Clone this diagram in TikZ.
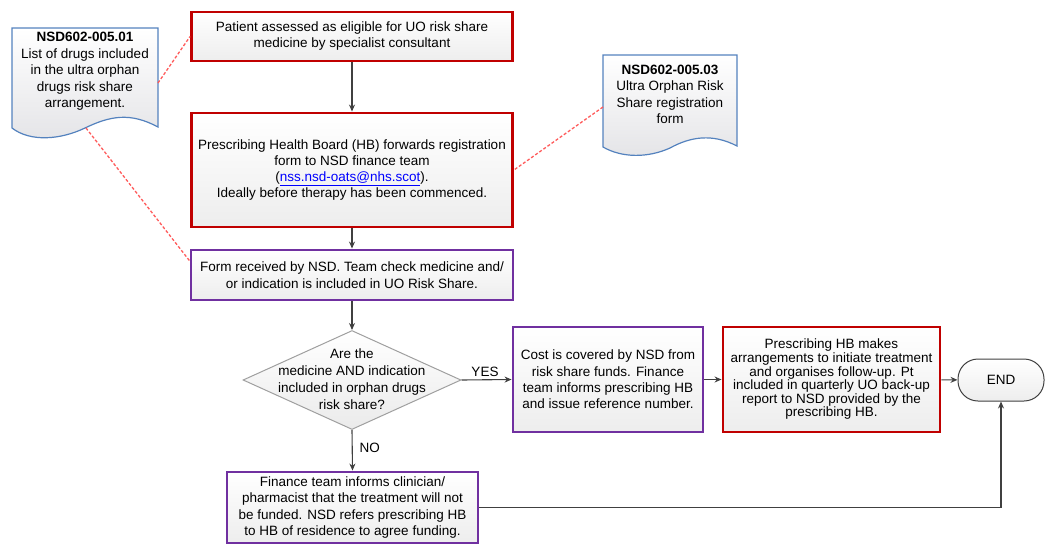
\documentclass[tikz,border=0pt]{standalone}
\usepackage{fontspec}
\setmainfont{Liberation Sans}
\usetikzlibrary{shapes.geometric,arrows.meta}

\definecolor{boxred}{RGB}{192,0,0}
\definecolor{boxpurple}{RGB}{112,48,160}
\definecolor{docblue}{RGB}{84,130,190}
\definecolor{flowgray}{RGB}{64,64,64}
\definecolor{linkred}{RGB}{255,90,90}

\tikzset{
  redstep/.style={draw=boxred, line width=2.9pt, top color=white, bottom color=gray!14, align=center, inner sep=1pt},
  purplestep/.style={draw=boxpurple, line width=2.9pt, top color=white, bottom color=gray!14, align=center, inner sep=1pt},
  decision/.style={diamond, draw=gray!75, line width=1pt, top color=white, bottom color=gray!16, inner sep=0pt, minimum width=218pt, minimum height=99pt},
  terminal/.style={draw=gray!50!black, line width=1pt, rounded corners=20pt, top color=white, bottom color=gray!14, minimum width=86pt, minimum height=42pt},
  docline/.style={draw=docblue, line width=1.2pt, top color=white, bottom color=blue!6!gray!20},
  flow/.style={draw=flowgray, line width=1.1pt, -{Stealth[length=7pt,width=6pt]}},
  notelink/.style={draw=linkred, line width=1.3pt, dash pattern=on 3pt off 2pt}
}

\begin{document}
\begin{tikzpicture}[x=1pt,y=-1pt,font=\fontsize{13.5}{16.5}\selectfont]
\useasboundingbox (0,0) rectangle (1045,544);

%Shape: Document [NSD602-005.01]
\draw[docline] (12,128) -- (12,28) -- (158,28) -- (158,127) .. controls (130,112) and (110,116) .. (85,128) .. controls (60,140) and (30,142) .. (12,128) -- cycle;
\node[align=center] (doclist) at (85,71.5) {\textbf{NSD602-005.01}\\List of drugs included\\in the ultra orphan\\drugs risk share\\arrangement.};
\coordinate (doclistE) at (158,83);
\coordinate (doclistS) at (86,128);

%Shape: Document [NSD602-005.03]
\draw[docline] (603,147) -- (603,55) -- (737,55) -- (737,146) .. controls (712,133) and (690,137) .. (670,148) .. controls (648,158) and (622,158) .. (603,147) -- cycle;
\node[align=center] (docform) at (670,94.5) {\textbf{NSD602-005.03}\\Ultra Orphan Risk\\Share registration\\form};
\coordinate (docformW) at (603,107);

% Process boxes
\node[redstep, minimum width=321pt, minimum height=49pt, font=\fontsize{13.5}{16}\selectfont] (assess) at (352,36.5) {Patient assessed as eligible for UO risk share\\medicine by specialist consultant};
\node[redstep, minimum width=321pt, minimum height=114pt, font=\fontsize{13.5}{16}\selectfont] (forward) at (352,170) {Prescribing Health Board (HB) forwards registration\\form to NSD finance team\\(\textcolor{blue}{\underline{nss.nsd-oats@nhs.scot}}).\\Ideally before therapy has been commenced.};
\node[purplestep, minimum width=322pt, minimum height=50pt, font=\fontsize{13.5}{17}\selectfont] (received) at (352,275) {Form received by NSD. Team check medicine and/\\or indication is included in UO Risk Share.};

% Decision
\node[decision] (check) at (352,380) {};
\node[align=center, font=\fontsize{13.5}{17}\selectfont] (checktext) at (352,379) {Are the\\medicine AND indication\\included in orphan drugs\\risk share?};

\node[purplestep, minimum width=190pt, minimum height=105pt, font=\fontsize{13.5}{16.3}\selectfont] (covered) at (608,379.5) {Cost is covered by NSD from\\risk share funds. Finance\\team informs prescribing HB\\and issue reference number.};
\node[redstep, minimum width=217pt, minimum height=105pt, font=\fontsize{13.5}{13.6}\selectfont] (arrange) at (831.5,379.5) {Prescribing HB makes\\arrangements to initiate treatment\\and organises follow-up. Pt\\included in quarterly UO back-up\\report to NSD provided by the\\prescribing HB.};
\node[terminal] (finish) at (1001,380) {END};
\node[purplestep, minimum width=251pt, minimum height=71pt, font=\fontsize{13.5}{16.3}\selectfont] (refuse) at (352.5,507.5) {Finance team informs clinician/\\pharmacist that the treatment will not\\be funded. NSD refers prescribing HB\\to HB of residence to agree funding.};

% Connectors
\draw[flow] (assess) -- (forward);
\draw[flow] (forward) -- (received);
\draw[flow] (received) -- (check.north);
\draw[flow] (check.east) -- (covered.west);
\draw[flow] (check.south) -- (refuse.north);
\draw[flow] (covered) -- (arrange);
\draw[flow] (arrange) -- (finish);
\draw[flow] (refuse.east) -| (finish.south);

% Text Node
\node (yes) at (485,372) {YES};
% Text Node
\node[anchor=west] (no) at (356,448) {NO};

% Note links
\draw[notelink] (doclistE) -- (assess.west);
\draw[notelink] (doclistS) -- (received.175);
\draw[notelink] (docformW) -- (forward.east);

\end{tikzpicture}
\end{document}
